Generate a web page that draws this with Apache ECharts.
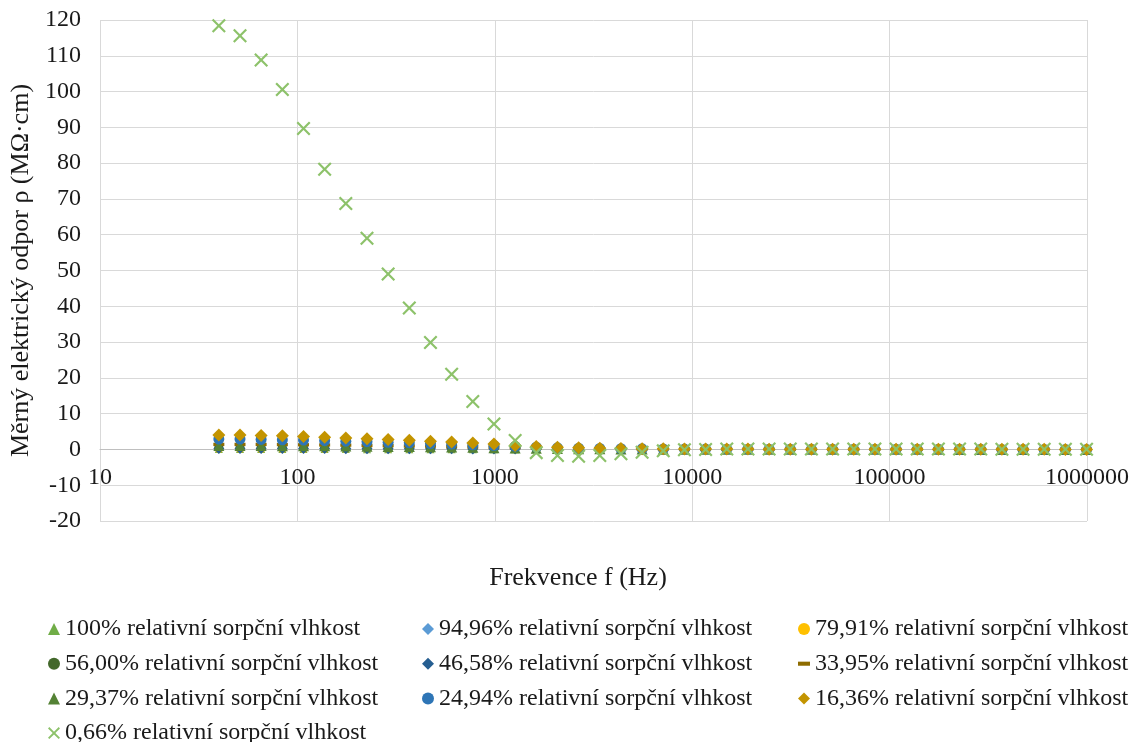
<!DOCTYPE html>
<html>
<head>
<meta charset="utf-8">
<script src="https://cdn.jsdelivr.net/npm/echarts@6/dist/echarts.min.js"></script>
<style>
  html, body { margin: 0; padding: 0; background: #fff; }
  #chart { width: 1133px; height: 742px; }
</style>
</head>
<body>
<div id="chart"></div>
<script>
// Measurement frequencies (Hz), logarithmic sweep
const freqHz = [40, 51.2, 65.5, 83.9, 107.4, 137.4, 175.9, 225.2, 288.2, 368.9, 472.2, 604.5,
  773.7, 990.3, 1268, 1622, 2077, 2658, 3403, 4356, 5575, 7136, 9134, 11692, 14966, 19157,
  24521, 31386, 40175, 51424, 65822, 84253, 107844, 138040, 176692, 226166, 289492, 370550,
  474305, 607110, 777100, 994688];

// Specific electrical resistivity (MΩ·cm) per relative sorption moisture
const rh100 = [0.10, 0.10, 0.10, 0.10, 0.09, 0.09, 0.09, 0.08, 0.08, 0.08, 0.07, 0.07, 0.06, 0.06,
  0.05, 0.05, 0.04, 0.04, 0.03, 0.03, 0.03, 0.02, 0.02, 0.02, 0.02, 0.01, 0.01, 0.01, 0.01, 0.01,
  0.01, 0.01, 0.01, 0.01, 0.00, 0.00, 0.00, 0.00, 0.00, 0.00, 0.00, 0.00];
const rh94_96 = [0.12, 0.12, 0.12, 0.11, 0.11, 0.11, 0.10, 0.10, 0.09, 0.09, 0.08, 0.08, 0.07, 0.07,
  0.06, 0.05, 0.05, 0.04, 0.04, 0.03, 0.03, 0.03, 0.02, 0.02, 0.02, 0.02, 0.01, 0.01, 0.01, 0.01,
  0.01, 0.01, 0.01, 0.01, 0.01, 0.00, 0.00, 0.00, 0.00, 0.00, 0.00, 0.00];
const rh79_91 = [0.15, 0.15, 0.14, 0.14, 0.14, 0.13, 0.13, 0.12, 0.12, 0.11, 0.10, 0.10, 0.09, 0.08,
  0.07, 0.06, 0.05, 0.05, 0.04, 0.04, 0.03, 0.03, 0.03, 0.02, 0.02, 0.02, 0.02, 0.01, 0.01, 0.01,
  0.01, 0.01, 0.01, 0.01, 0.01, 0.01, 0.00, 0.00, 0.00, 0.00, 0.00, 0.00];
const rh56_00 = [0.6, 0.6, 0.6, 0.6, 0.55, 0.55, 0.5, 0.5, 0.45, 0.45, 0.4, 0.4, 0.35, 0.3,
  0.25, 0.2, 0.17, 0.14, 0.12, 0.1, 0.08, 0.07, 0.06, 0.05, 0.04, 0.04, 0.03, 0.03, 0.03, 0.02,
  0.02, 0.02, 0.02, 0.02, 0.01, 0.01, 0.01, 0.01, 0.01, 0.01, 0.01, 0.01];
const rh46_58 = [0.25, 0.25, 0.25, 0.24, 0.24, 0.23, 0.22, 0.21, 0.2, 0.19, 0.18, 0.17, 0.15, 0.14,
  0.12, 0.1, 0.09, 0.08, 0.07, 0.06, 0.05, 0.04, 0.04, 0.03, 0.03, 0.02, 0.02, 0.02, 0.02, 0.01,
  0.01, 0.01, 0.01, 0.01, 0.01, 0.01, 0.01, 0.00, 0.00, 0.00, 0.00, 0.00];
const rh33_95 = [1.4, 1.4, 1.4, 1.35, 1.3, 1.25, 1.2, 1.1, 1.05, 0.95, 0.9, 0.8, 0.7, 0.6,
  0.5, 0.4, 0.3, 0.24, 0.19, 0.15, 0.12, 0.1, 0.08, 0.07, 0.06, 0.05, 0.04, 0.04, 0.03, 0.03,
  0.03, 0.02, 0.02, 0.02, 0.02, 0.01, 0.01, 0.01, 0.01, 0.01, 0.01, 0.01];
const rh29_37 = [1.1, 1.1, 1.1, 1.05, 1.0, 1.0, 0.95, 0.9, 0.85, 0.8, 0.75, 0.7, 0.6, 0.5,
  0.4, 0.32, 0.25, 0.2, 0.16, 0.13, 0.1, 0.08, 0.07, 0.06, 0.05, 0.04, 0.04, 0.03, 0.03, 0.03,
  0.02, 0.02, 0.02, 0.02, 0.02, 0.01, 0.01, 0.01, 0.01, 0.01, 0.01, 0.01];
const rh24_94 = [2.9, 2.9, 2.8, 2.7, 2.6, 2.45, 2.3, 2.15, 2.0, 1.85, 1.65, 1.5, 1.3, 1.1,
  0.85, 0.62, 0.46, 0.35, 0.27, 0.21, 0.17, 0.14, 0.11, 0.09, 0.08, 0.07, 0.06, 0.05, 0.04, 0.04,
  0.03, 0.03, 0.03, 0.02, 0.02, 0.02, 0.02, 0.01, 0.01, 0.01, 0.01, 0.01];
const rh16_36 = [4.0, 4.0, 3.9, 3.8, 3.6, 3.4, 3.2, 3.0, 2.8, 2.55, 2.3, 2.05, 1.8, 1.5,
  1.1, 0.8, 0.6, 0.45, 0.35, 0.28, 0.22, 0.18, 0.15, 0.12, 0.1, 0.09, 0.08, 0.07, 0.06, 0.05,
  0.05, 0.04, 0.04, 0.03, 0.03, 0.03, 0.02, 0.02, 0.02, 0.02, 0.01, 0.01];
const rh0_66 = [118.4, 115.6, 108.8, 100.6, 89.7, 78.3, 68.7, 59.0, 49.0, 39.5, 29.9, 21.0, 13.4, 7.1,
  2.5, -0.9, -1.7, -1.9, -1.7, -1.2, -0.8, -0.4, -0.1, 0.0, 0.1, 0.1, 0.1, 0.1, 0.1, 0.1,
  0.1, 0.1, 0.1, 0.1, 0.1, 0.1, 0.1, 0.05, 0.05, 0.05, 0.05, 0.05];

// Axis ticks
const xTicks = [10, 100, 1000, 10000, 100000, 1000000];
const yMin = -20, yMax = 120, yStep = 10;

const FONT = '"Liberation Serif", "Times New Roman", serif';
const TEXT = '#1a1a1a';

// Plot area geometry (px)
const GRID_TOP = 20, GRID_BOTTOM = 221, CHART_H = 742;
const gridH = CHART_H - GRID_TOP - GRID_BOTTOM;
// lift the x axis (line + labels) from the bottom edge up to the y = 0 level
const xAxisOffset = -gridH * (0 - yMin) / (yMax - yMin);

// Filled cross shape used for the "×" markers
const CROSS = 'path://M0,11 L11,0 L50,39 L89,0 L100,11 L61,50 L100,89 L89,100 L50,61 L11,100 L0,89 L39,50 Z';
const DASH = 'path://M0,0 H100 V30 H0 Z';

const seriesDefs = [
  { name: '100% relativní sorpční vlhkost',   data: rh100,   symbol: 'triangle', size: 8,  color: '#70AD47' },
  { name: '94,96% relativní sorpční vlhkost', data: rh94_96, symbol: 'diamond',  size: 8,  color: '#5B9BD5' },
  { name: '79,91% relativní sorpční vlhkost', data: rh79_91, symbol: 'circle',   size: 8,  color: '#FFC000' },
  { name: '56,00% relativní sorpční vlhkost', data: rh56_00, symbol: 'circle',   size: 9,  color: '#43682B' },
  { name: '46,58% relativní sorpční vlhkost', data: rh46_58, symbol: 'diamond',  size: 11, color: '#255E91' },
  { name: '33,95% relativní sorpční vlhkost', data: rh33_95, symbol: DASH,       size: [11, 3.3], color: '#8E6C00' },
  { name: '29,37% relativní sorpční vlhkost', data: rh29_37, symbol: 'triangle', size: 11, color: '#548235' },
  { name: '24,94% relativní sorpční vlhkost', data: rh24_94, symbol: 'circle',   size: 11, color: '#2E75B6' },
  { name: '16,36% relativní sorpční vlhkost', data: rh16_36, symbol: 'diamond',  size: 13, color: '#C39400' },
  { name: '0,66% relativní sorpční vlhkost',  data: rh0_66,  symbol: CROSS,      size: 14, color: '#8DC26A' }
];

const series = seriesDefs.map(s => ({
  name: s.name,
  type: 'scatter',
  symbol: s.symbol,
  symbolSize: s.size,
  itemStyle: { color: s.color, opacity: 1 },
  data: freqHz.map((f, i) => [f, s.data[i]]),
  emphasis: { disabled: true }
}));

const legendCommon = {
  orient: 'vertical',
  top: 617,
  height: 140,
  padding: 0,
  itemWidth: 12,
  itemHeight: 12,
  itemGap: 10.7,
  selectedMode: false,
  textStyle: { fontFamily: FONT, fontSize: 24, color: TEXT, lineHeight: 24 }
};
const names = seriesDefs.map(s => s.name);
const legendItem = n => {
  const d = seriesDefs.find(s => s.name === n);
  const icon = d.symbol === DASH ? 'path://M0,0 H100 V34 H0 Z' : d.symbol;
  return { name: n, icon: icon };
};

const chart = echarts.init(document.getElementById('chart'), null, { renderer: 'canvas' });
chart.setOption({
  animation: false,
  backgroundColor: '#ffffff',
  grid: { left: 100, right: 46, top: GRID_TOP, bottom: GRID_BOTTOM, containLabel: false },
  xAxis: {
    type: 'log',
    logBase: 10,
    min: xTicks[0],
    max: xTicks[xTicks.length - 1],
    position: 'bottom',
    offset: xAxisOffset,
    axisLine: { show: true, onZero: false, lineStyle: { color: '#BFBFBF', width: 1 } },
    axisTick: { show: false },
    axisLabel: {
      margin: 16,
      fontFamily: FONT, fontSize: 24, color: TEXT,
      formatter: v => String(Math.round(v))
    },
    splitLine: { show: true, lineStyle: { color: '#D9D9D9', width: 1 } }
  },
  yAxis: {
    type: 'value',
    min: yMin,
    max: yMax,
    interval: yStep,
    name: 'Měrný elektrický odpor ρ (MΩ·cm)',
    nameLocation: 'middle',
    nameGap: 66,
    nameTextStyle: { fontFamily: FONT, fontSize: 26, color: TEXT },
    axisLine: { show: false },
    axisTick: { show: false },
    axisLabel: { margin: 19, fontFamily: FONT, fontSize: 24, color: TEXT },
    splitLine: { show: true, lineStyle: { color: '#D9D9D9', width: 1 } }
  },
  graphic: [{
    type: 'text',
    x: 578,
    y: 578,
    style: {
      text: 'Frekvence f (Hz)',
      textAlign: 'center',
      textVerticalAlign: 'middle',
      font: '26px ' + FONT,
      fill: TEXT
    }
  }],
  legend: [
    Object.assign({}, legendCommon, { left: 48,  data: [names[0], names[3], names[6], names[9]].map(legendItem) }),
    Object.assign({}, legendCommon, { left: 422, data: [names[1], names[4], names[7]].map(legendItem) }),
    Object.assign({}, legendCommon, { left: 798, data: [names[2], names[5], names[8]].map(legendItem) })
  ],
  series: series
});
</script>
</body>
</html>
